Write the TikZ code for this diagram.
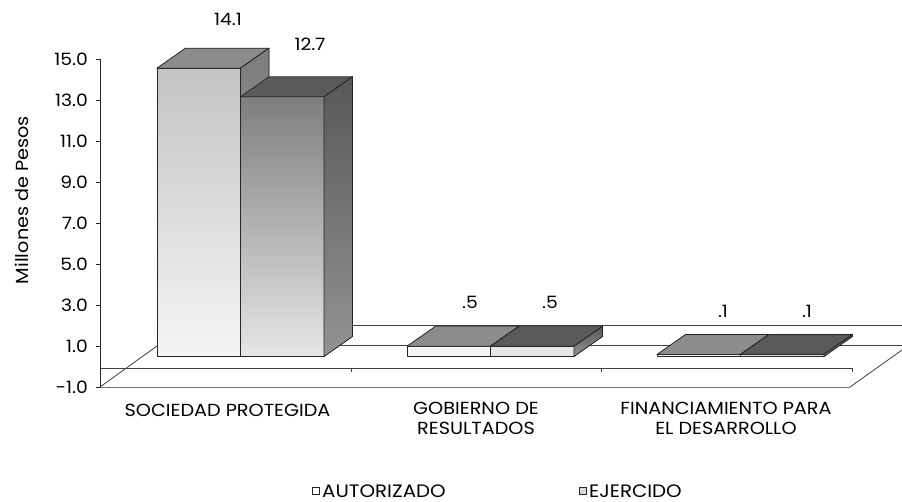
\documentclass[tikz,border=0pt]{standalone}
\usepackage{fontspec}
\setmainfont{Poppins}[FakeStretch=1.1]
\definecolor{autfrontT}{HTML}{C4C4C4}
\definecolor{autfrontB}{HTML}{F4F4F4}
\definecolor{auttop}{HTML}{8C8C8C}
\definecolor{autside}{HTML}{7C7C7C}
\definecolor{ejefrontT}{HTML}{7E7E7E}
\definecolor{ejefrontB}{HTML}{E6E6E6}
\definecolor{ejetop}{HTML}{5A5A5A}
\definecolor{ejeside}{HTML}{585858}
\newcommand{\cbar}[7]{% x, value, front top, front bottom, top, side, name
  \pgfmathsetmacro\yt{356.5-20.45*#2}
  \pgfmathsetmacro\xr{#1+83.5}
  \fill[top color=#3,bottom color=#4] (#1,\yt) rectangle (\xr,356.5);
  \draw[barline] (#1,\yt) rectangle (\xr,356.5);
  \filldraw[barline,fill=#5] (#1,\yt) -- ++(28.5,-20) -- (\xr+28.5,\yt-20) -- (\xr,\yt) -- cycle;
  \fill[top color=#6,bottom color=#6!65!white] (\xr,356.5) -- (\xr,\yt) -- (\xr+28.5,\yt-20) -- (\xr+28.5,336.5) -- cycle;
  \draw[barline] (\xr,356.5) -- (\xr,\yt) -- (\xr+28.5,\yt-20) -- (\xr+28.5,336.5) -- cycle;
  \coordinate (#7) at (\xr,\yt);
}
\begin{document}
\begin{tikzpicture}[x=1pt,y=-1pt,
  axisline/.style={draw=black!85, line width=0.8pt},
  floorline/.style={draw=black!75, line width=0.8pt},
  barline/.style={draw=black!85, line width=0.8pt, line join=round},
  ticklab/.style={anchor=east, inner sep=0pt, font=\fontsize{17}{17}\selectfont},
  vallab/.style={inner sep=0pt, font=\fontsize{17}{17}\selectfont},
  catlab/.style={inner sep=0pt, align=center, font=\fontsize{17.5}{19.5}\selectfont},
  leglab/.style={anchor=base west, inner sep=0pt, text height=13pt, text depth=0pt, font=\fontsize{18}{18}\selectfont},
  legbox/.style={draw=black!85, line width=0.8pt, minimum size=7pt, inner sep=0pt}
]
\useasboundingbox (0,0) rectangle (902,502);
% floor and planes
\draw[floorline, draw=black!55] (100,387) -- (850,387);
\draw[floorline] (100,387) -- (157,346);
\draw[floorline] (850,387) -- (902,350);
\draw[floorline] (157,345) -- (902,345);
\draw[floorline] (157,325) -- (902,325);
\draw[floorline] (100,368) -- (852,368);
\foreach \tx in {351,601,852} \draw[floorline] (\tx,368) -- (\tx,372);
% axis
\draw[axisline] (100,59) -- (100,387);
\foreach \v/\lab in {15/15.0,13/13.0,11/11.0,9/9.0,7/7.0,5/5.0,3/3.0,1/1.0,-1/-1.0}{
  \pgfmathsetmacro\yy{387-(\v+1)*20.5}
  \draw[axisline] (96,\yy) -- (100,\yy);
  \node[ticklab] (t\v) at (88,\yy) {\lab};
}
\node[rotate=90, inner sep=0pt, font=\fontsize{17.5}{17.5}\selectfont] (ylab) at (22,200) {Millones de Pesos};
% bars
\cbar{157}{14.1}{autfrontT}{autfrontB}{auttop}{autside}{b1}
\cbar{240.5}{12.7}{ejefrontT}{ejefrontB}{ejetop}{ejeside}{b2}
\cbar{407}{0.5}{autfrontB}{autfrontB}{auttop}{autside}{b3}
\cbar{490.5}{0.5}{ejefrontB}{ejefrontB}{ejetop}{ejeside}{b4}
\cbar{657}{0.1}{autfrontB}{autfrontB}{auttop}{autside}{b5}
\cbar{740.5}{0.1}{ejefrontB}{ejefrontB}{ejetop}{ejeside}{b6}
% value labels
\node[vallab] (v1) at (228,19) {14.1};
\node[vallab] (v2) at (310,44) {12.7};
\node[vallab] (v3) at (470,302) {.5};
\node[vallab] (v4) at (550,302) {.5};
\node[vallab] (v5) at (723,311) {.1};
\node[vallab] (v6) at (807,311) {.1};
% category labels
\node[catlab] (c1) at (227.5,410) {SOCIEDAD PROTEGIDA};
\node[catlab, anchor=north] (c2) at (476,402) {GOBIERNO DE\\RESULTADOS};
\node[catlab, anchor=north] (c3) at (726,402) {FINANCIAMIENTO PARA\\EL DESARROLLO};
% legend
\node[legbox, fill=white] (lg1) at (316,491) {};
\node[leglab] (l1) at (322,497) {AUTORIZADO};
\node[legbox, fill=black!15] (lg2) at (583,491) {};
\node[leglab] (l2) at (589,497) {EJERCIDO};
\end{tikzpicture}
\end{document}
